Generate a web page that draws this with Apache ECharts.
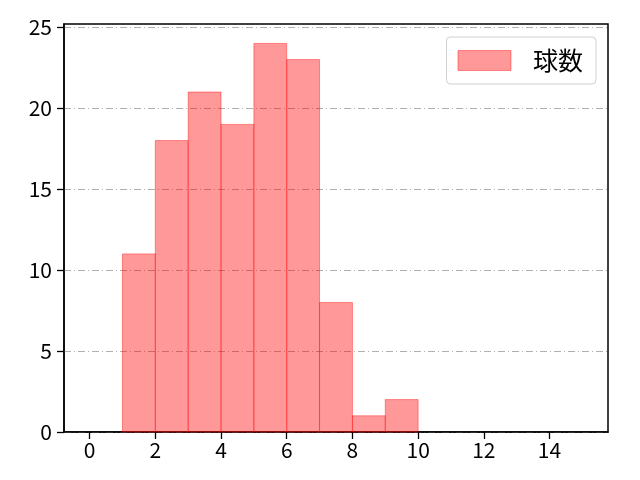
<!DOCTYPE html>
<html>
<head>
<meta charset="utf-8">
<script src="https://cdn.jsdelivr.net/npm/echarts@6/dist/echarts.min.js"></script>
<style>
html, body { margin: 0; padding: 0; background: #fff; }
#chart { width: 640px; height: 480px; }
</style>
</head>
<body>
<div id="chart"></div>
<script>
// histogram bins (left edge, right edge) and counts
var binStart = [1, 2, 3, 4, 5, 6, 7, 8, 9];
var binEnd = [2, 3, 4, 5, 6, 7, 8, 9, 10];
var counts = [11, 18, 21, 19, 24, 23, 8, 1, 2];
var xTicks = [0, 2, 4, 6, 8, 10, 12, 14];
var yTicks = [0, 5, 10, 15, 20, 25];
var seriesName = '球数';

var font = 'Noto Sans CJK JP';
var myChart = echarts.init(document.getElementById('chart'));

var data = binStart.map(function (s, i) { return [s, binEnd[i], counts[i]]; });

var option = {
    animation: false,
    grid: { left: 64, right: 32, top: 24, bottom: 48, show: true, borderColor: '#000', borderWidth: 1.5, backgroundColor: 'transparent' },
    legend: {
        right: 44,
        top: 37,
        padding: [11, 13, 11, 11],
        backgroundColor: '#fff',
        borderColor: '#d0d0d0',
        borderWidth: 1,
        borderRadius: 4,
        itemWidth: 53,
        itemHeight: 20,
        icon: 'rect',
        textStyle: { fontFamily: font, fontSize: 25, color: '#000', padding: [0, 0, 0, 17] },
        data: [{ name: seriesName, itemStyle: { color: 'rgba(255,0,0,0.4)', borderColor: 'rgba(255,0,0,0.4)', borderWidth: 1 } }]
    },
    xAxis: {
        type: 'value',
        min: -0.78,
        max: 15.78,
        axisLine: { onZero: false, lineStyle: { color: '#000', width: 1.5 } },
        axisTick: { show: true, customValues: xTicks, length: 7, lineStyle: { color: '#000', width: 1.3 } },
        axisLabel: { customValues: xTicks, fontFamily: font, fontSize: 21, color: '#000', margin: 8 },
        splitLine: { show: false }
    },
    yAxis: {
        type: 'value',
        min: 0,
        max: 25.2,
        interval: 5,
        axisLine: { show: true, onZero: false, lineStyle: { color: '#000', width: 1.5 } },
        axisTick: { show: true, customValues: yTicks, length: 7, lineStyle: { color: '#000', width: 1.3 } },
        axisLabel: { customValues: yTicks, fontFamily: font, fontSize: 21, color: '#000', margin: 12 },
        splitLine: { show: true, lineStyle: { color: '#b0b0b0', width: 1, type: [7, 3, 1, 3] } }
    },
    series: [{
        name: seriesName,
        type: 'custom',
        itemStyle: { color: 'rgba(255,0,0,0.4)' },
        renderItem: function (params, api) {
            var p0 = api.coord([api.value(0), api.value(2)]);
            var p1 = api.coord([api.value(1), 0]);
            return {
                type: 'rect',
                shape: { x: p0[0], y: p0[1], width: p1[0] - p0[0], height: p1[1] - p0[1] },
                style: { fill: 'rgba(255,0,0,0.4)', stroke: 'rgba(255,0,0,0.4)', lineWidth: 1 }
            };
        },
        encode: { x: [0, 1], y: 2 },
        data: data
    }]
};
myChart.setOption(option);
</script>
</body>
</html>
